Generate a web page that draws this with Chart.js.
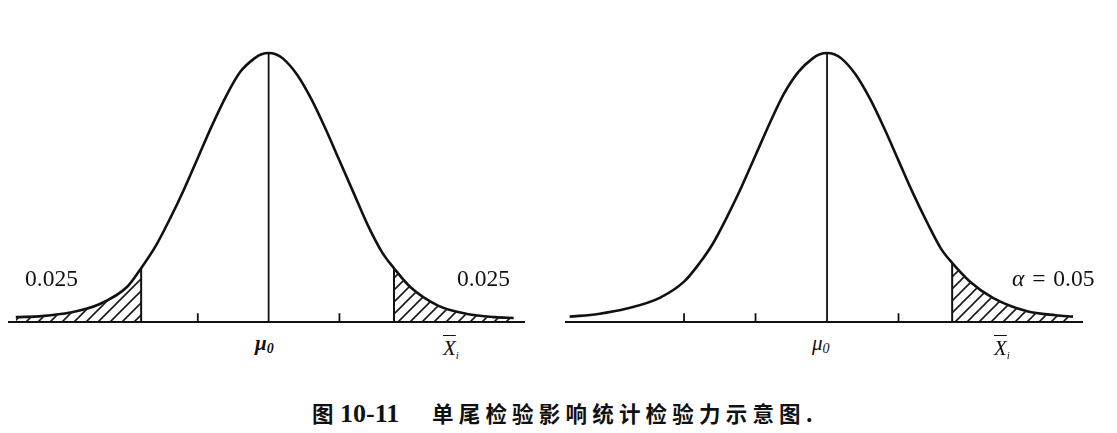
<!DOCTYPE html>
<html>
<head>
<meta charset="utf-8">
<script src="https://cdn.jsdelivr.net/npm/chart.js"></script>
<style>
  body { margin: 0; background: #fff; width: 1117px; height: 433px; overflow: hidden; position: relative; }
  canvas { position: absolute; }
  .lbl { position: absolute; font-family: "Liberation Serif", "DejaVu Serif", serif; color: #111; white-space: nowrap; line-height: 1; }
  .num { font-size: 23.5px; }
  .mu { font-size: 21px; font-style: italic; }
  .mu sub { font-size: 14px; font-style: italic; vertical-align: -3px; }
  .xbar { font-size: 21px; font-style: italic; }
  .xbar .x { text-decoration: overline; text-decoration-thickness: 1px; }
  .xbar sub { font-size: 11px; vertical-align: -4px; }
  .cap { position: absolute; top: 402px; line-height: 1; white-space: nowrap; color: #111; font-weight: bold;
         font-family: "Noto Sans CJK SC", sans-serif; font-size: 21.5px; letter-spacing: 5.2px; }
  .capnum { position: absolute; top: 401px; line-height: 1; white-space: nowrap; color: #111; font-weight: bold;
            font-family: "Liberation Serif", serif; font-size: 26px; }
</style>
</head>
<body>
<canvas id="leftChart" width="517" height="290" style="left:8px; top:40px;"></canvas>
<canvas id="rightChart" width="518" height="290" style="left:565px; top:40px;"></canvas>

<div class="lbl num" style="left:25px; top:267px;">0.025</div>
<div class="lbl num" style="left:457px; top:267px;">0.025</div>
<div class="lbl num" style="left:1012px; top:267px; word-spacing:2px;"><i>α</i> = 0.05</div>

<div class="lbl mu" style="left:255px; top:333px; font-weight:bold;">μ<sub>0</sub></div>
<div class="lbl mu" style="left:812px; top:333px;">μ<sub>0</sub></div>
<div class="lbl xbar" style="left:443px; top:338px;"><span class="x">X</span><sub>i</sub></div>
<div class="lbl xbar" style="left:994px; top:338px;"><span class="x">X</span><sub>i</sub></div>

<div class="cap" style="left:312px;">图</div>
<div class="capnum" style="left:340px;">10-11</div>
<div class="cap" style="left:432px;">单尾检验影响统计检验力示意图.</div>

<script>
// --- dados (x em unidades de sigma, altura relativa ao pico) ---
const leftX = [-3.57, -3.2, -2.8, -2.4, -2.0, -1.8, -1.6, -1.4, -1.2, -1.0, -0.8, -0.6, -0.4, -0.2, -0.1, 0,
               0.1, 0.2, 0.4, 0.6, 0.8, 1.0, 1.2, 1.4, 1.6, 1.77, 2.0, 2.4, 2.8, 3.2, 3.46];
const leftY = [0.018, 0.022, 0.035, 0.065, 0.13, 0.20, 0.28, 0.38, 0.49, 0.61, 0.73, 0.84, 0.93, 0.98, 0.995, 1.0,
               0.995, 0.98, 0.92, 0.83, 0.72, 0.60, 0.48, 0.36, 0.26, 0.20, 0.13, 0.06, 0.03, 0.018, 0.015];
const leftCuts = [-1.8, 1.77];
const leftTicks = [-1, 1];

const rightX = [-3.6, -3.2, -2.8, -2.34, -2.0, -1.78, -1.6, -1.4, -1.2, -1.0, -0.8, -0.6, -0.4, -0.2, -0.1, 0,
                0.1, 0.2, 0.4, 0.6, 0.8, 1.0, 1.2, 1.4, 1.6, 1.75, 2.0, 2.32, 2.8, 3.2, 3.44];
const rightY = [0.02, 0.03, 0.05, 0.09, 0.15, 0.22, 0.29, 0.39, 0.50, 0.62, 0.74, 0.85, 0.93, 0.98, 0.995, 1.0,
                0.995, 0.98, 0.92, 0.83, 0.72, 0.60, 0.48, 0.37, 0.27, 0.22, 0.15, 0.09, 0.04, 0.025, 0.02];
const rightCuts = [1.75];
const rightTicks = [-2, -1, 1];

const tickHeight = 0.033;

function hatchPattern() {
    const c = document.createElement('canvas');
    c.width = 12; c.height = 12;
    const g = c.getContext('2d');
    g.strokeStyle = '#1a1a1a';
    g.lineWidth = 1.6;
    g.beginPath();
    g.moveTo(0, 12); g.lineTo(12, 0);
    g.moveTo(-6, 6); g.lineTo(6, -6);
    g.moveTo(6, 18); g.lineTo(18, 6);
    g.stroke();
    return g.createPattern(c, 'repeat');
}

function buildPanel(canvasId, xs, ys, cuts, ticks, xMin, xMax) {
    const curve = xs.map((x, i) => ({ x: x, y: ys[i] }));
    const base = { pointRadius: 0, borderColor: '#111', fill: false, clip: false };
    const datasets = [];

    // eixo horizontal
    datasets.push({ ...base, data: [{ x: xMin, y: 0 }, { x: xMax, y: 0 }], borderWidth: 2 });

    // caudas hachuradas
    cuts.forEach(cut => {
        const tail = cut < 0 ? curve.filter(p => p.x <= cut) : curve.filter(p => p.x >= cut);
        datasets.push({ ...base, data: tail, borderWidth: 0, fill: 'origin',
                        backgroundColor: hatchPattern(), cubicInterpolationMode: 'monotone' });
        const h = ys[xs.indexOf(cut)];
        datasets.push({ ...base, data: [{ x: cut, y: 0 }, { x: cut, y: h }], borderWidth: 2 });
    });

    // marcas do eixo
    const tickPts = [];
    ticks.forEach(t => { tickPts.push({ x: t, y: 0 }, { x: t, y: tickHeight }, { x: t, y: null }); });
    datasets.push({ ...base, data: tickPts, borderWidth: 1.8, spanGaps: false });

    // linha da média
    datasets.push({ ...base, data: [{ x: 0, y: 0 }, { x: 0, y: 1 }], borderWidth: 1.8 });

    // curva normal
    datasets.push({ ...base, data: curve, borderWidth: 2.6, cubicInterpolationMode: 'monotone' });

    new Chart(document.getElementById(canvasId).getContext('2d'), {
        type: 'line',
        data: { datasets: datasets },
        options: {
            responsive: false,
            animation: false,
            layout: { padding: 0 },
            plugins: { legend: { display: false }, tooltip: { enabled: false } },
            scales: {
                x: { type: 'linear', min: xMin, max: xMax, display: false },
                y: { min: -0.0297, max: 1.0483, display: false }
            }
        }
    });
}

buildPanel('leftChart', leftX, leftY, leftCuts, leftTicks, -3.68, 3.62);
buildPanel('rightChart', rightX, rightY, rightCuts, rightTicks, -3.665, 3.58);
</script>
</body>
</html>
